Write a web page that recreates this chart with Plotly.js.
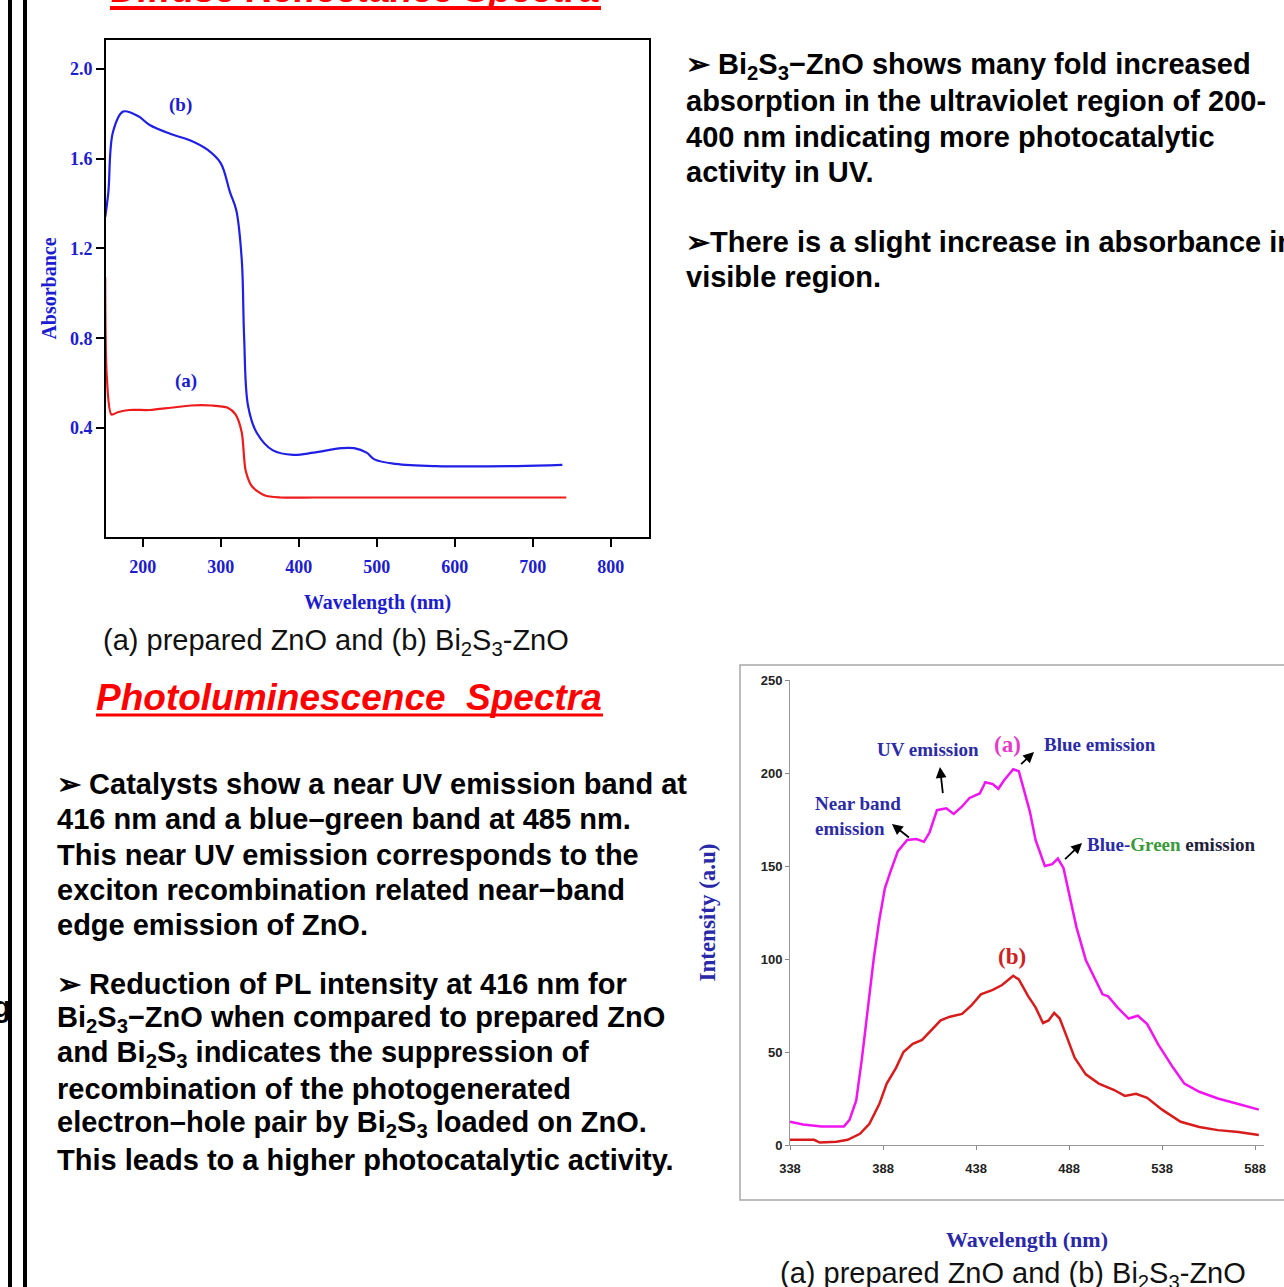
<!DOCTYPE html>
<html>
<head>
<meta charset="utf-8">
<script src="https://cdn.plot.ly/plotly-3.0.1.min.js"></script>
<style>html,body{margin:0;padding:0;background:#fff;}#chart{width:1284px;height:1287px;}</style>
</head>
<body>
<div id="chart"></div>
<script>
// ---- Diffuse reflectance spectra (absorbance) ----
const drsWavelengthA = [152, 154, 160, 168, 183, 209, 236, 262, 288, 309, 319, 327, 332, 340, 356, 377, 419, 471, 560, 650, 743];
const drsAbsorbanceA = [1.07, 0.63, 0.46, 0.47, 0.48, 0.48, 0.49, 0.50, 0.50, 0.49, 0.46, 0.38, 0.21, 0.14, 0.10, 0.09, 0.09, 0.09, 0.09, 0.09, 0.09];
const drsWavelengthB = [152, 156, 162, 175, 194, 209, 236, 262, 283, 300, 312, 320, 327, 330, 335, 346, 367, 393, 419, 455, 471, 487, 497, 524, 576, 680, 738];
const drsAbsorbanceB = [1.34, 1.45, 1.72, 1.81, 1.79, 1.75, 1.71, 1.68, 1.64, 1.58, 1.45, 1.37, 1.15, 0.81, 0.50, 0.38, 0.30, 0.28, 0.29, 0.31, 0.31, 0.29, 0.26, 0.24, 0.23, 0.23, 0.235];
const drsXTicks = [200, 300, 400, 500, 600, 700, 800];
const drsYTicks = [0.4, 0.8, 1.2, 1.6, 2.0];
const drsYTickText = ['0.4', '0.8', '1.2', '1.6', '2.0'];

// ---- Photoluminescence spectra ----
const plWavelengthA = [338, 345, 355, 367, 370, 373.6, 376.6, 380, 383, 386, 389, 392, 396, 401, 406, 410, 413, 417, 422, 426, 430.5, 434.5, 440, 443, 447, 450, 453, 458, 461, 464, 467, 470, 475, 479, 482, 485, 488, 492, 497, 502, 506, 509, 514, 520, 525, 530, 536, 544, 550, 558, 568, 579, 590];
const plIntensityA = [12.5, 11, 10, 10, 13.5, 24, 46, 74, 100, 121, 138, 147, 158, 164, 164.5, 163, 168, 180, 181, 178, 182, 186.6, 189, 195, 194, 191.5, 196, 202, 201, 190, 179, 164, 150, 151, 154, 149, 136, 117, 99.5, 89, 81, 80, 74, 68, 69.5, 65, 54, 41.5, 33, 28.6, 25, 22, 19];
const plWavelengthB = [338, 351, 354, 363, 369, 375.6, 380.7, 386, 390, 395, 399, 404, 409, 414, 419, 424, 430.5, 435.5, 440.6, 447, 452, 458, 461, 466, 470, 474, 477, 480, 483, 487, 491, 497, 504, 512, 518, 524, 530, 538, 548, 558, 568, 579, 590];
const plIntensityB = [2.8, 2.8, 1.3, 1.7, 2.8, 6, 11.4, 22, 33, 41.5, 50, 54.4, 56.5, 62, 67, 69, 70.5, 75, 81, 83.4, 86, 91, 89, 80, 74, 65.6, 67, 71, 68, 57.6, 47, 38, 33, 29.7, 26.4, 27.5, 25.4, 19, 12.5, 9.7, 8, 7, 5.4];

// ---- Slide texts ----
const topTitle = 'Diffuse Reflectance Spectra';
const plTitle = 'Photoluminescence&nbsp;&nbsp;Spectra';
const captionText = '(a) prepared ZnO and (b) Bi<sub>2</sub>S<sub>3</sub>-ZnO';
const drsBulletLines = [
  '➢ Bi<sub>2</sub>S<sub>3</sub>−ZnO shows many fold increased',
  'absorption in the ultraviolet region of 200-',
  '400 nm indicating more photocatalytic',
  'activity in UV.',
  '➢There is a slight increase in absorbance in the',
  'visible region.'
];
const plBulletLines = [
  '➢ Catalysts show a near UV emission band at',
  '416 nm and a blue–green band at 485 nm.',
  'This near UV emission corresponds to the',
  'exciton recombination related near−band',
  'edge emission of ZnO.',
  '➢ Reduction of PL intensity at 416 nm for',
  'Bi<sub>2</sub>S<sub>3</sub>−ZnO when compared to prepared ZnO',
  'and Bi<sub>2</sub>S<sub>3</sub> indicates the suppression of',
  'recombination of the photogenerated',
  'electron–hole pair by Bi<sub>2</sub>S<sub>3</sub> loaded on ZnO.',
  'This leads to a higher photocatalytic activity.'
];

// ---- layout helpers ----
const W = 1284, H = 1287;
const px = v => v / W;
const py = v => 1 - v / H;

const SANS = 'Liberation Sans, Arial, sans-serif';
const SERIF = 'Liberation Serif, Times New Roman, serif';
const DRS_BLUE = '#1c1cd0';

const traces = [
  {x: drsWavelengthB, y: drsAbsorbanceB, xaxis: 'x', yaxis: 'y', mode: 'lines',
   line: {color: '#1f1fe6', width: 2.2, shape: 'spline', smoothing: 1.0}, hoverinfo: 'skip'},
  {x: drsWavelengthA, y: drsAbsorbanceA, xaxis: 'x', yaxis: 'y', mode: 'lines',
   line: {color: '#ec1c1c', width: 2.2, shape: 'spline', smoothing: 0.8}, hoverinfo: 'skip'},
  {x: plWavelengthA, y: plIntensityA, xaxis: 'x2', yaxis: 'y2', mode: 'lines',
   line: {color: '#f014f0', width: 2.5}, hoverinfo: 'skip'},
  {x: plWavelengthB, y: plIntensityB, xaxis: 'x2', yaxis: 'y2', mode: 'lines',
   line: {color: '#d81c1c', width: 2.5}, hoverinfo: 'skip'}
];

const annotations = [];
function addText(text, x, y, font, opts) {
  annotations.push(Object.assign({text: text, x: x, y: y, xref: 'paper', yref: 'paper',
    showarrow: false, xanchor: 'left', yanchor: 'middle', font: font, align: 'left'}, opts || {}));
}
// top red title (mostly cut off above)
addText(topTitle, px(355), py(-11), {family: SANS, size: 37, color: '#ff0000', weight: 'bold', style: 'italic'}, {xanchor: 'center'});
// PL title
addText(plTitle, px(349), py(697), {family: SANS, size: 37, color: '#ff0000', weight: 'bold', style: 'italic'}, {xanchor: 'center'});
// captions
addText(captionText, px(101), py(642), {family: SANS, size: 29, color: '#111111'});
addText(captionText, px(778), py(1275), {family: SANS, size: 29, color: '#111111'});
// bullet texts
const drsLineY = [66, 101, 137, 172, 242, 277];
drsBulletLines.forEach((t, i) => addText(t, px(684), py(drsLineY[i]), {family: SANS, size: 29, color: '#000000', weight: 'bold'}));
const plLineY = [784, 819, 855, 890, 925, 984, 1019, 1054, 1089, 1124, 1160];
plBulletLines.forEach((t, i) => addText(t, px(55), py(plLineY[i]), {family: SANS, size: 29, color: '#000000', weight: 'bold'}));
// fragment on the far left
addText('g', px(13), py(1007), {family: SANS, size: 29, color: '#000000', weight: 'bold'}, {xanchor: 'right'});

// DRS curve labels
annotations.push({text: '(b)', x: 249, y: 1.84, xref: 'x', yref: 'y', showarrow: false,
  font: {family: SERIF, size: 19, color: DRS_BLUE, weight: 'bold'}});
annotations.push({text: '(a)', x: 255.5, y: 0.61, xref: 'x', yref: 'y', showarrow: false,
  font: {family: SERIF, size: 19, color: DRS_BLUE, weight: 'bold'}});

// PL labels
const PLNAVY = '#2b2ba6';
const plLab = (text, x, y, color, size, xanchor) => annotations.push({text: text, x: x, y: y, xref: 'x2', yref: 'y2',
  showarrow: false, xanchor: xanchor || 'center', align: 'left',
  font: {family: SERIF, size: size, color: color, weight: 'bold'}});
plLab('UV emission', 412.2, 212.4, PLNAVY, 19);
plLab('(a)', 454.7, 215.5, '#e43cc8', 23);
plLab('Blue emission', 504.7, 215.5, PLNAVY, 19);
plLab('Near band<br>emission', 350.4, 177, PLNAVY, 19, 'left');
plLab('Blue-<span style="color:#3a9a3a">Green</span> <span style="color:#1e1e3c">emission</span>', 496.4, 161.5, PLNAVY, 19, 'left');
plLab('(b)', 457.4, 101.5, '#cc2222', 23);

// PL arrows
const plArrow = (x, y, ax, ay) => annotations.push({text: ' ', x: x, y: y, xref: 'x2', yref: 'y2',
  showarrow: true, ax: ax, ay: ay, arrowhead: 2, arrowsize: 1.2, arrowwidth: 1.8, arrowcolor: '#000000'});
plArrow(392.8, 172.6, 20, 16);
plArrow(418.6, 203.2, 4, 36);
plArrow(469.2, 211.3, -16, 15);
plArrow(495.0, 162.4, -20, 19);

const shapes = [
  // left border bars
  {type: 'line', xref: 'paper', yref: 'paper', x0: px(10), x1: px(10), y0: 0, y1: 1, line: {color: '#000', width: 4}},
  {type: 'line', xref: 'paper', yref: 'paper', x0: px(25), x1: px(25), y0: 0, y1: 1, line: {color: '#000', width: 4}},
  // title underlines
  {type: 'line', xref: 'paper', yref: 'paper', x0: px(110), x1: px(601), y0: py(8), y1: py(8), line: {color: '#ff0000', width: 4}},
  {type: 'line', xref: 'paper', yref: 'paper', x0: px(96), x1: px(603), y0: py(715), y1: py(715), line: {color: '#ff0000', width: 3}},
  // PL outer frame
  {type: 'rect', xref: 'paper', yref: 'paper', x0: px(740), x1: px(1300), y0: py(1200), y1: py(665), line: {color: '#a8a8a8', width: 1.5}}
];

const layout = {
  width: W, height: H,
  margin: {l: 0, r: 0, t: 0, b: 0},
  paper_bgcolor: '#ffffff', plot_bgcolor: '#ffffff',
  showlegend: false,
  xaxis: {domain: [px(106), px(649)], range: [153, 849], anchor: 'y',
    tickvals: drsXTicks, ticks: 'outside', ticklen: 8, tickwidth: 2, tickcolor: '#000', ticklabelstandoff: 4,
    showline: true, linecolor: '#000', linewidth: 2, mirror: true, showgrid: false, zeroline: false,
    tickfont: {family: SERIF, size: 18, color: DRS_BLUE, weight: 'bold'},
    title: {text: 'Wavelength (nm)', standoff: 19, font: {family: SERIF, size: 20, color: DRS_BLUE, weight: 'bold'}}},
  yaxis: {domain: [py(537), py(40)], range: [-0.086, 2.129], anchor: 'x',
    tickvals: drsYTicks, ticktext: drsYTickText, ticks: 'outside', ticklen: 8, tickwidth: 2, tickcolor: '#000',
    showline: true, linecolor: '#000', linewidth: 2, mirror: true, showgrid: false, zeroline: false,
    tickfont: {family: SERIF, size: 18, color: DRS_BLUE, weight: 'bold'},
    title: {text: 'Absorbance', standoff: 8, font: {family: SERIF, size: 20, color: DRS_BLUE, weight: 'bold'}}},
  xaxis2: {domain: [px(790), px(1264)], range: [338, 592.8], anchor: 'y2',
    tick0: 338, dtick: 50, ticks: 'outside', ticklen: 4, tickwidth: 1, tickcolor: '#888', ticklabelstandoff: 7,
    showline: true, linecolor: '#999', linewidth: 1, showgrid: false, zeroline: false,
    tickfont: {family: SANS, size: 13, color: '#222', weight: 'bold'},
    title: {text: 'Wavelength (nm)', standoff: 57, font: {family: SERIF, size: 22, color: '#2828a8', weight: 'bold'}}},
  yaxis2: {domain: [py(1145), py(680)], range: [0, 250], anchor: 'x2',
    tick0: 0, dtick: 50, ticks: 'outside', ticklen: 4, tickwidth: 1, tickcolor: '#888',
    showline: true, linecolor: '#999', linewidth: 1, showgrid: false, zeroline: false,
    tickfont: {family: SANS, size: 13, color: '#222', weight: 'bold'},
    title: {text: 'Intensity (a.u)', standoff: 38, font: {family: SERIF, size: 23, color: '#2828a8', weight: 'bold'}}},
  annotations: annotations,
  shapes: shapes
};

Plotly.newPlot('chart', traces, layout, {staticPlot: true, displayModeBar: false});
</script>
</body>
</html>
